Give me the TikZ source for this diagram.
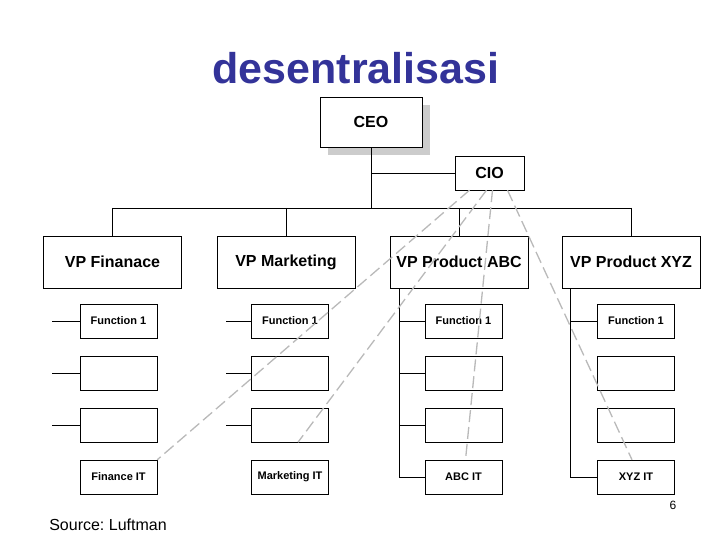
\documentclass[tikz,border=0pt]{standalone}
\usepackage{fontspec}
\setmainfont{Liberation Sans}
\frenchspacing
\definecolor{titleblue}{RGB}{51,51,153}
\tikzstyle{unit}	=[draw=black,rectangle,inner sep=0pt,font=\bfseries]
\tikzstyle{vp}		=[unit,minimum width=138pt,minimum height=52pt,font=\bfseries\fontsize{16}{18}\selectfont]
\tikzstyle{func}	=[unit,minimum width=77pt,minimum height=34pt,font=\bfseries\fontsize{11}{13}\selectfont]
\tikzstyle{edge1}	=[draw,-,black]
\tikzstyle{edgeit}	=[draw,gray!55,line width=1.3pt,dash pattern=on 12pt off 5pt]
\begin{document}
\begin{tikzpicture}[x=1pt,y=-1pt]
	\useasboundingbox (0,0) rectangle (720,540);
	\node[font=\bfseries\fontsize{43}{45}\selectfont,text=titleblue] (title) at (356,68) {desentralisasi};
	
	%%%% top
	\fill[gray!40] (328,105) rectangle (430,155);
	\node[unit,fill=white,minimum width=102pt,minimum height=50pt,font=\bfseries\fontsize{16}{18}\selectfont] (ceo) at (371,122) {CEO};
	\node[unit,minimum width=69pt,minimum height=34pt,font=\bfseries\fontsize{16}{18}\selectfont] (cio) at (489.5,173) {CIO};
	\coordinate (bus) at (371,208);
	\coordinate (ciol) at (371,173);
	\path[edge1] (ceo) -- (bus);
	\path[edge1] (ciol) -- (cio.west);
	
	%%%% VPs
	\foreach \pos/\name/\txt in {{(112.5,262)/vp1/VP Finanace}, {(286,262)/vp2/VP Marketing}, {(459,262)/vp3/VP Product ABC}, {(631,262)/vp4/VP Product XYZ}}
	\node[vp] (\name) at \pos {\txt};
	\coordinate (b1) at (112.5,208);
	\coordinate (b4) at (631,208);
	\path[edge1] (b1) -- (b4);
	\foreach \name in {vp1,vp2,vp3,vp4} \path[edge1] (\name.north |- b1) -- (\name.north);
	
	%%%% functions
	\foreach \col/\x/\last in {1/118.5/Finance IT, 2/290/Marketing IT, 3/463.5/ABC IT, 4/636/XYZ IT}{
		\node[func] (f\col a) at (\x,321) {Function 1};
		\node[func] (f\col b) at (\x,373) {};
		\node[func] (f\col c) at (\x,425) {};
		\node[func] (f\col d) at (\x,477) {\last};
	}
	\foreach \col/\s in {1/52,2/226,3/399}
	\foreach \r in {a,b,c}{
		\coordinate (s\col\r) at (\s,0);
		\path[edge1] (s\col\r |- f\col\r.west) -- (f\col\r.west);
	}
	\coordinate (s3d) at (399,0);
	\path[edge1] (s3d |- f3d.west) -- (f3d.west);
	\path[edge1] (s3d |- vp3.south) -- (s3d |- f3d.west);
	\coordinate (s4) at (570,0);
	\path[edge1] (s4 |- vp4.south) -- (s4 |- f4d.west) -- (f4d.west);
	\path[edge1] (s4 |- f4a.west) -- (f4a.west);
	
	%%%% IT links
	\path[edgeit] ([xshift=-20pt]cio.south) -- (f1d.north east);
	\path[edgeit] ([xshift=-3pt]cio.south) -- ([xshift=8pt]f2c.south);
	\path[edgeit] ([xshift=3pt]cio.south) -- ([xshift=2pt]f3d.north);
	\path[edgeit] ([xshift=18pt]cio.south) -- ([xshift=-4pt]f4d.north);
	
	\node[font=\fontsize{12}{14}\selectfont] (page) at (673,505) {6};
	\node[font=\fontsize{16}{18}\selectfont] (src) at (108,525) {Source: Luftman};
\end{tikzpicture}
\end{document}
